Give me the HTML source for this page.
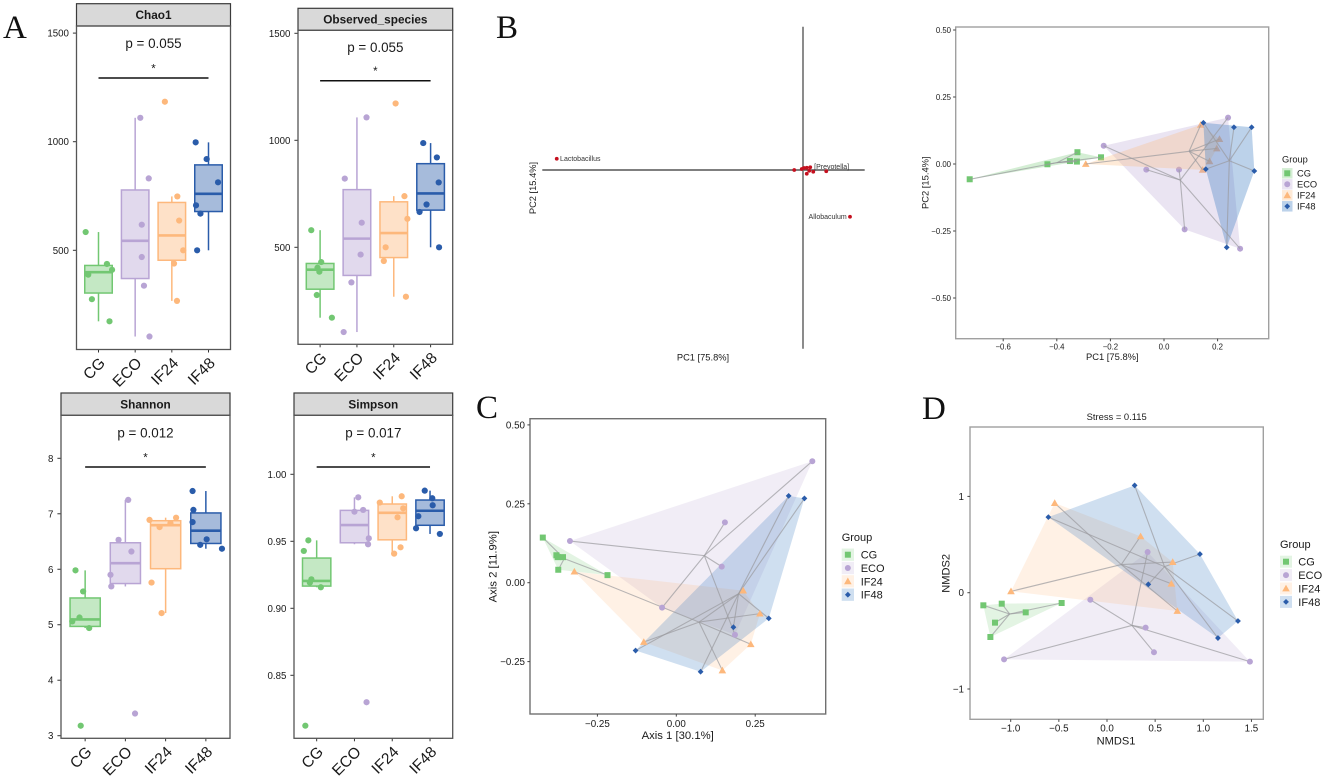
<!DOCTYPE html>
<html lang="en">
<head>
<meta charset="utf-8">
<title>Alpha and beta diversity figure</title>
<style>
html,body{margin:0;padding:0;background:#fff;}
svg{display:block;font-family:"Liberation Sans",sans-serif;filter:blur(0.35px);}
.letter{font-family:"Liberation Serif",serif;font-size:33px;fill:#111;}
</style>
</head>
<body>
<svg id="fig" xmlns="http://www.w3.org/2000/svg" width="1325" height="780" viewBox="0 0 1325 780">
  <rect x="0" y="0" width="1325" height="780" fill="#fff"/>
  <text class="letter" x="3" y="38">A</text>
  <text class="letter" x="496" y="38">B</text>
  <text class="letter" x="476" y="418">C</text>
  <text class="letter" x="922" y="419">D</text>
</svg>
<script>
/* ---------- shared categories ---------- */
const categories = ['CG', 'ECO', 'IF24', 'IF48'];

/* ---------- panel A: alpha diversity, one row per group ---------- */
const chao1Values = [
  [584, 437, 410, 388, 275, 173],
  [1110, 831, 618, 469, 337, 103],
  [1184, 748, 637, 500, 439, 267],
  [997, 920, 813, 707, 669, 500]
];
const chao1Jitter = [
  [-0.35, 0.23, 0.37, -0.28, -0.18, 0.30],
  [0.14, 0.37, 0.18, 0.18, 0.24, 0.39],
  [-0.19, 0.15, 0.20, 0.31, 0.06, 0.14],
  [-0.35, -0.05, 0.26, -0.34, -0.22, -0.31]
];
const chao1Ticks = [500, 1000, 1500];

const observedValues = [
  [580, 431, 405, 386, 277, 171],
  [1107, 821, 615, 466, 336, 104],
  [1172, 739, 633, 500, 436, 269],
  [987, 920, 803, 700, 665, 500]
];
const observedJitter = [
  [-0.24, 0.03, -0.07, -0.02, -0.09, 0.32],
  [0.26, -0.33, 0.13, 0.10, -0.15, -0.36],
  [0.05, 0.29, 0.37, -0.22, -0.27, 0.33],
  [-0.20, 0.17, 0.22, -0.11, -0.30, 0.23]
];
const observedTicks = [500, 1000, 1500];

const shannonValues = [
  [5.98, 5.60, 5.13, 5.06, 4.94, 3.18],
  [7.25, 6.53, 6.32, 5.90, 5.69, 3.40],
  [6.93, 6.89, 6.83, 6.76, 5.76, 5.21],
  [7.41, 7.07, 6.85, 6.54, 6.44, 6.37]
];
const shannonJitter = [
  [-0.24, -0.05, -0.14, -0.32, 0.10, -0.11],
  [0.07, -0.17, 0.15, -0.37, -0.35, 0.24],
  [0.26, -0.40, 0.12, -0.15, -0.35, -0.10],
  [-0.33, -0.31, -0.33, 0.02, -0.14, 0.40]
];
const shannonTicks = [3, 4, 5, 6, 7, 8];

const simpsonValues = [
  [0.9507, 0.9428, 0.9216, 0.9192, 0.9157, 0.8124],
  [0.9828, 0.9734, 0.9721, 0.9522, 0.9478, 0.8299],
  [0.9836, 0.9789, 0.9746, 0.9679, 0.9455, 0.9408],
  [0.9878, 0.9821, 0.9769, 0.9687, 0.9597, 0.9555]
];
const simpsonJitter = [
  [-0.22, -0.34, -0.14, -0.18, 0.11, -0.30],
  [0.10, 0.23, 0.00, 0.38, 0.36, 0.32],
  [0.25, -0.33, 0.29, 0.14, 0.22, 0.05],
  [-0.14, 0.06, 0.07, -0.31, -0.37, 0.26]
];
const simpsonTicks = [0.85, 0.90, 0.95, 1.00];

/* ---------- panel B: PCA biplot loadings ---------- */
const biplotPC1 = [-0.985, 0.188, 0.093, -0.035, -0.005, 0.004, 0.015, 0.029, 0.015, 0.041, 0.025];
const biplotPC2 = [0.045, -0.187, -0.005, 0, 0.004, 0.008, 0.009, 0.011, -0.015, -0.007, -0.003];
const biplotLabels = ['Lactobacillus', 'Allobaculum', '[Prevotella]', '', '', '', '', '', '', '', ''];

/* ---------- panel B right: PCA scores ---------- */
const pcaX = [
  [-0.725, -0.435, -0.351, -0.325, -0.323, -0.235],
  [-0.225, -0.066, 0.056, 0.239, 0.284, 0.077],
  [-0.292, 0.137, 0.207, 0.197, 0.170, 0.144],
  [0.147, 0.261, 0.327, 0.337, 0.156, 0.234]
];
const pcaY = [
  [-0.057, -0.001, 0.011, 0.009, 0.044, 0.025],
  [0.068, -0.021, -0.021, 0.173, -0.316, -0.244],
  [0, 0.146, 0.093, 0.058, 0.010, -0.022],
  [0.154, 0.137, 0.137, -0.026, -0.019, -0.311]
];
const pcaXTicks = [-0.6, -0.4, -0.2, 0.0, 0.2];
const pcaYTicks = [-0.50, -0.25, 0.00, 0.25, 0.50];

/* ---------- panel C: PCoA scores ---------- */
const pcoaX = [
  [-0.423, -0.380, -0.376, -0.359, -0.374, -0.218],
  [-0.337, 0.154, 0.431, 0.144, -0.045, 0.186],
  [-0.323, 0.212, 0.265, 0.236, 0.146, -0.103],
  [0.356, 0.406, 0.293, 0.181, 0.077, -0.129]
];
const pcoaY = [
  [0.143, 0.087, 0.081, 0.081, 0.041, 0.024],
  [0.132, 0.191, 0.385, 0.051, -0.079, -0.165],
  [0.035, -0.025, -0.098, -0.195, -0.278, -0.188],
  [0.275, 0.267, -0.113, -0.141, -0.282, -0.215]
];
const pcoaXTicks = [-0.25, 0.00, 0.25];
const pcoaYTicks = [-0.25, 0.00, 0.25, 0.50];

/* ---------- panel D: NMDS scores ---------- */
const nmdsX = [
  [-1.284, -1.093, -0.844, -0.471, -1.163, -1.211],
  [-0.173, 0.422, 0.401, 0.488, -1.069, 1.484],
  [-0.543, -0.997, 0.349, 0.682, 0.668, 0.730],
  [0.287, -0.609, 0.965, 0.429, 1.360, 1.152]
];
const nmdsY = [
  [-0.131, -0.114, -0.204, -0.107, -0.311, -0.460],
  [-0.073, 0.422, -0.363, -0.619, -0.692, -0.716],
  [0.931, 0.014, 0.585, 0.318, 0.093, -0.190],
  [1.114, 0.785, 0.401, 0.087, -0.294, -0.471]
];
const nmdsXTicks = [-1.0, -0.5, 0.0, 0.5, 1.0, 1.5];
const nmdsYTicks = [-1, 0, 1];

/* ---------- style ---------- */
const groupColors = ['#72c772', '#b8a4d4', '#fdb87c', '#2a5caa'];
const hullColors = ['#72c772', '#b8a4d4', '#fdb87c', '#3f7fc4'];
const groupShapes = ['square', 'circle', 'triangle', 'diamond'];
const NS = 'http://www.w3.org/2000/svg';
const root = document.getElementById('fig');

function node(tag, parent) {
  const el = document.createElementNS(NS, tag);
  parent.appendChild(el);
  return el;
}
function set(el, props) {
  for (const k in props) el.setAttribute(k, props[k]);
  return el;
}
function linear(d0, r0, d1, r1) {
  return function (v) { return r0 + (v - d0) * (r1 - r0) / (d1 - d0); };
}
function slug(s) {
  return s.toLowerCase().replace(/[^a-z0-9]+/g, '-').replace(/^-|-$/g, '');
}
function fmt(v, dec) {
  const s = Math.abs(v).toFixed(dec);
  return (v < 0 ? '\u2212' : '') + s;
}
function label(parent, str, x, y, size, anchor, extra) {
  const t = node('text', parent);
  set(t, { x: x, y: y, 'font-size': size, 'text-anchor': anchor, fill: '#1a1a1a' });
  if (extra) set(t, extra);
  t.textContent = str;
  return t;
}
function quantile(sorted, p) {
  const h = (sorted.length - 1) * p;
  const lo = Math.floor(h);
  const hi = Math.min(lo + 1, sorted.length - 1);
  return sorted[lo] + (h - lo) * (sorted[hi] - sorted[lo]);
}
function boxStats(values) {
  const s = values.slice().sort(function (a, b) { return a - b; });
  const q1 = quantile(s, 0.25);
  const med = quantile(s, 0.5);
  const q3 = quantile(s, 0.75);
  const iqr = q3 - q1;
  const inside = s.filter(function (v) { return v >= q1 - 1.5 * iqr && v <= q3 + 1.5 * iqr; });
  return { q1: q1, med: med, q3: q3, low: inside[0], high: inside[inside.length - 1] };
}
function mean(a) {
  return a.reduce(function (p, c) { return p + c; }, 0) / a.length;
}
function convexHull(points) {
  const pts = points.slice().sort(function (a, b) { return a[0] - b[0] || a[1] - b[1]; });
  function cross(o, a, b) { return (a[0] - o[0]) * (b[1] - o[1]) - (a[1] - o[1]) * (b[0] - o[0]); }
  const lower = [];
  pts.forEach(function (p) {
    while (lower.length >= 2 && cross(lower[lower.length - 2], lower[lower.length - 1], p) <= 0) lower.pop();
    lower.push(p);
  });
  const upper = [];
  pts.slice().reverse().forEach(function (p) {
    while (upper.length >= 2 && cross(upper[upper.length - 2], upper[upper.length - 1], p) <= 0) upper.pop();
    upper.push(p);
  });
  lower.pop();
  upper.pop();
  return lower.concat(upper);
}
function symbol(parent, shape, x, y, color) {
  let el;
  if (shape === 'square') {
    el = set(node('rect', parent), { x: x - 3, y: y - 3, width: 6, height: 6, fill: color });
  } else if (shape === 'circle') {
    el = set(node('circle', parent), { cx: x, cy: y, r: 3, fill: color });
  } else if (shape === 'triangle') {
    el = set(node('polygon', parent), {
      points: (x - 3.8) + ',' + (y + 2.9) + ' ' + (x + 3.8) + ',' + (y + 2.9) + ' ' + x + ',' + (y - 3.8),
      fill: color
    });
  } else {
    el = set(node('polygon', parent), {
      points: (x - 2.9) + ',' + y + ' ' + x + ',' + (y - 2.9) + ' ' + (x + 2.9) + ',' + y + ' ' + x + ',' + (y + 2.9),
      fill: color
    });
  }
  return el;
}

/* ---------- box panels ---------- */
function drawBoxPanel(cfg) {
  const g = node('g', root);
  
  

  const step = (cfg.x1 - cfg.x0) / 4.2;
  const cx = function (i) { return cfg.x0 + (i + 0.6) * step; };
  const y = linear(cfg.yA[0], cfg.yA[1], cfg.yB[0], cfg.yB[1]);
  const boxW = 0.75 * step;

  const strip = set(node('rect', g), {
    x: cfg.x0, y: cfg.stripTop, width: cfg.x1 - cfg.x0, height: cfg.top - cfg.stripTop,
    fill: '#d9d9d9', stroke: '#3a3a3a', 'stroke-width': 1.2
  });
  
  

  const title = label(g, cfg.title, (cfg.x0 + cfg.x1) / 2, (cfg.stripTop + cfg.top) / 2 + 4.2, 11.8, 'middle', { 'font-weight': 'bold' });
  
  

  const pTxt = label(g, cfg.p, (cfg.x0 + cfg.x1) / 2, cfg.pY, 13.4, 'middle');
  
  

  const sig = set(node('line', g), {
    x1: cx(0), x2: cx(3), y1: cfg.sigY, y2: cfg.sigY, stroke: '#111', 'stroke-width': 1.5
  });
  
  

  const star = label(g, '*', (cfg.x0 + cfg.x1) / 2, cfg.sigY - 5.5, 11.5, 'middle');
  
  

  cfg.values.forEach(function (vals, i) {
    const group = categories[i];
    const color = groupColors[i];
    const s = boxStats(vals);
    const grp = node('g', g);
    
    

    const wHigh = set(node('line', grp), { x1: cx(i), x2: cx(i), y1: y(s.q3), y2: y(s.high), stroke: color, 'stroke-width': 1.5 });
    
    

    const wLow = set(node('line', grp), { x1: cx(i), x2: cx(i), y1: y(s.q1), y2: y(s.low), stroke: color, 'stroke-width': 1.5 });
    
    

    const box = set(node('rect', grp), {
      x: cx(i) - boxW / 2, y: y(s.q3), width: boxW, height: y(s.q1) - y(s.q3),
      fill: color, 'fill-opacity': 0.42, stroke: color, 'stroke-width': 1.5
    });
    
    

    const med = set(node('line', grp), {
      x1: cx(i) - boxW / 2, x2: cx(i) + boxW / 2, y1: y(s.med), y2: y(s.med), stroke: color, 'stroke-width': 2.6
    });
    
    

    vals.forEach(function (v, k) {
      const pt = set(node('circle', grp), {
        cx: cx(i) + cfg.jitter[i][k] * step, cy: y(v), r: 3.1, fill: color
      });
      
      
    });

    const tick = set(node('line', g), { x1: cx(i), x2: cx(i), y1: cfg.bottom, y2: cfg.bottom + 3, stroke: '#333', 'stroke-width': 1 });
    
    

    const lx = cx(i) + 7.5;
    const ly = cfg.bottom + 14.5;
    const lab = label(g, group, lx, ly, 15.5, 'end', { transform: 'rotate(-45 ' + lx + ' ' + ly + ')' });
    
    
  });

  cfg.ticks.forEach(function (t) {
    const tick = set(node('line', g), { x1: cfg.x0 - 3.6, x2: cfg.x0, y1: y(t), y2: y(t), stroke: '#333', 'stroke-width': 1 });
    
    
    const lab = label(g, fmt(t, cfg.dec), cfg.x0 - 7.6, y(t) + 3.5, 9.7, 'end');
    
    
  });

  const border = set(node('rect', g), {
    x: cfg.x0, y: cfg.top, width: cfg.x1 - cfg.x0, height: cfg.bottom - cfg.top,
    fill: 'none', stroke: '#555', 'stroke-width': 1.3
  });
  
  
}

drawBoxPanel({ name: 'chao1', title: 'Chao1', p: 'p = 0.055', values: chao1Values, jitter: chao1Jitter, ticks: chao1Ticks, dec: 0,
  x0: 76.5, x1: 230.5, stripTop: 3.7, top: 26, bottom: 349.5, yA: [500, 250.3], yB: [1000, 141.7], pY: 48, sigY: 78 });
drawBoxPanel({ name: 'observed-species', title: 'Observed_species', p: 'p = 0.055', values: observedValues, jitter: observedJitter, ticks: observedTicks, dec: 0,
  x0: 298, x1: 452.7, stripTop: 8.3, top: 30.3, bottom: 344.3, yA: [500, 247.3], yB: [1000, 140.3], pY: 52, sigY: 80.7 });
drawBoxPanel({ name: 'shannon', title: 'Shannon', p: 'p = 0.012', values: shannonValues, jitter: shannonJitter, ticks: shannonTicks, dec: 0,
  x0: 61, x1: 230, stripTop: 393, top: 415.3, bottom: 738.3, yA: [3, 735.7], yB: [8, 458.3], pY: 437.5, sigY: 467 });
drawBoxPanel({ name: 'simpson', title: 'Simpson', p: 'p = 0.017', values: simpsonValues, jitter: simpsonJitter, ticks: simpsonTicks, dec: 2,
  x0: 294, x1: 452.7, stripTop: 393, top: 415.3, bottom: 738.3, yA: [0.85, 675.3], yB: [1, 474.3], pY: 437.5, sigY: 467 });

/* ---------- biplot ---------- */
(function drawBiplot() {
  const g = node('g', root);
  
  
  const x = linear(0, 803, 1, 1053);
  const y = linear(0, 170, 1, -80);
  const placement = {
    'Lactobacillus': { dx: 3.3, dy: 2.4, anchor: 'start' },
    'Allobaculum': { dx: -3.3, dy: 2.4, anchor: 'end' },
    '[Prevotella]': { dx: 5.4, dy: -2.4, anchor: 'middle' }
  };

  const h = set(node('line', g), { x1: 542.3, x2: 864.7, y1: y(0), y2: y(0), stroke: '#555', 'stroke-width': 1.4 });
  
  

  const v = set(node('line', g), { x1: x(0), x2: x(0), y1: 26.7, y2: 348.7, stroke: '#777', 'stroke-width': 1.7 });
  
  

  biplotPC1.forEach(function (pc1, i) {
    const pt = set(node('circle', g), { cx: x(pc1), cy: y(biplotPC2[i]), r: 1.9, fill: '#c5101f' });
    
    
    const name = biplotLabels[i];
    if (name) {
      const p = placement[name];
      const t = label(g, name, x(pc1) + p.dx, y(biplotPC2[i]) + p.dy, 7, p.anchor, { fill: '#333' });
      
      
    }
  });

  const xt = label(g, 'PC1 [75.8%]', 703, 360.5, 9.3, 'middle');
  
  

  const yt = label(g, 'PC2 [15.4%]', 536, 188, 9.3, 'middle', { transform: 'rotate(-90 536 188)' });
  
  
})();

/* ---------- ordination panels ---------- */
function drawOrdination(cfg) {
  const g = node('g', root);
  
  
  const x = linear(cfg.xA[0], cfg.xA[1], cfg.xB[0], cfg.xB[1]);
  const y = linear(cfg.yA[0], cfg.yA[1], cfg.yB[0], cfg.yB[1]);
  const alphaOf = function (i) { return i === 3 ? cfg.hullAlpha + 0.05 : cfg.hullAlpha; };

  function drawPoints(i) {
    cfg.xs[i].forEach(function (v, k) {
      const s = symbol(g, groupShapes[i], x(v), y(cfg.ys[i][k]), groupColors[i]);
      
      
    });
  }

  /* in the PCA scores plot the points sit beneath the hulls */
  if (!cfg.pointsOnTop) {
    [0, 1, 2].forEach(drawPoints);
  }

  cfg.xs.forEach(function (xv, i) {
    const pts = xv.map(function (v, k) { return [x(v), y(cfg.ys[i][k])]; });
    const hull = set(node('polygon', g), {
      points: convexHull(pts).map(function (p) { return p[0].toFixed(2) + ',' + p[1].toFixed(2); }).join(' '),
      fill: hullColors[i], 'fill-opacity': alphaOf(i)
    });
    
    
  });

  cfg.xs.forEach(function (xv, i) {
    const mx = mean(xv);
    const my = mean(cfg.ys[i]);
    xv.forEach(function (v, k) {
      const sp = set(node('line', g), {
        x1: x(mx), y1: y(my), x2: x(v), y2: y(cfg.ys[i][k]), stroke: '#9a9a9e', 'stroke-opacity': 0.7, 'stroke-width': 1.1
      });
      
      
    });
  });

  if (cfg.pointsOnTop) {
    [0, 1, 2, 3].forEach(drawPoints);
  } else {
    drawPoints(3);
  }

  const border = set(node('rect', g), {
    x: cfg.box[0], y: cfg.box[1], width: cfg.box[2] - cfg.box[0], height: cfg.box[3] - cfg.box[1],
    fill: 'none', stroke: cfg.borderColor, 'stroke-width': 1.4
  });
  
  

  cfg.xTicks.forEach(function (t) {
    const tick = set(node('line', g), { x1: x(t), x2: x(t), y1: cfg.box[3], y2: cfg.box[3] + 2.6, stroke: '#444', 'stroke-width': 1 });
    
    
    const lab = label(g, fmt(t, cfg.xDec), x(t), cfg.box[3] + cfg.tickGap, cfg.tickSize, 'middle');
    
    
  });
  cfg.yTicks.forEach(function (t) {
    const tick = set(node('line', g), { x1: cfg.box[0] - 2.6, x2: cfg.box[0], y1: y(t), y2: y(t), stroke: '#444', 'stroke-width': 1 });
    
    
    const lab = label(g, fmt(t, cfg.yDec), cfg.box[0] - cfg.yLabelGap, y(t) + cfg.tickSize * 0.36, cfg.tickSize, 'end');
    
    
  });

  const xt = label(g, cfg.xTitle, cfg.xTitlePos[0], cfg.xTitlePos[1], cfg.titleSize, 'middle');
  
  

  const yt = label(g, cfg.yTitle, cfg.yTitlePos[0], cfg.yTitlePos[1], cfg.titleSize, 'middle', {
    transform: 'rotate(-90 ' + cfg.yTitlePos[0] + ' ' + cfg.yTitlePos[1] + ')'
  });
  
  

  if (cfg.plotTitle) {
    const pt = label(g, cfg.plotTitle, cfg.plotTitlePos[0], cfg.plotTitlePos[1], 9.4, 'middle');
    
    
  }

  const leg = node('g', g);
  
  
  const lt = label(leg, 'Group', cfg.legendX, cfg.legendTitleY, cfg.legendSize, 'start');
  
  
  categories.forEach(function (c, i) {
    const ky = cfg.legendY + i * cfg.legendStep;
    const key = set(node('rect', leg), {
      x: cfg.legendX, y: ky - cfg.keySize / 2, width: cfg.keySize, height: cfg.keySize,
      fill: hullColors[i], 'fill-opacity': alphaOf(i)
    });
    
    
    const sy = symbol(leg, groupShapes[i], cfg.legendX + cfg.keySize / 2, ky, groupColors[i]);
    
    
    const tx = label(leg, c, cfg.legendLabelX, ky + cfg.legendSize * 0.36, cfg.legendSize, 'start');
    
    
  });
}

drawOrdination({ name: 'pca-scores', xs: pcaX, ys: pcaY, xTicks: pcaXTicks, yTicks: pcaYTicks, xDec: 1, yDec: 2,
  xA: [0, 1164], xB: [0.2, 1217.6], yA: [0, 164], yB: [0.25, 97], hullAlpha: 0.3, pointsOnTop: false,
  box: [955.7, 27, 1268.7, 338.7], borderColor: '#a0a0a0', tickSize: 7.8, tickGap: 10.7, titleSize: 9.4, yLabelGap: 4.7,
  xTitle: 'PC1 [75.8%]', xTitlePos: [1112.3, 360], yTitle: 'PC2 [15.4%]', yTitlePos: [928.3, 182.7],
  legendX: 1282, legendTitleY: 162.5, legendY: 173.3, legendStep: 11, keySize: 10.5, legendLabelX: 1297, legendSize: 9.3 });

drawOrdination({ name: 'pcoa', xs: pcoaX, ys: pcoaY, xTicks: pcoaXTicks, yTicks: pcoaYTicks, xDec: 2, yDec: 2,
  xA: [0, 676.3], xB: [0.25, 755.2], yA: [0, 582.7], yB: [0.25, 503.8], hullAlpha: 0.2, pointsOnTop: true,
  box: [530, 418.7, 825.7, 714], borderColor: '#707070', tickSize: 9.8, tickGap: 12.8, titleSize: 11.3, yLabelGap: 5,
  xTitle: 'Axis 1 [30.1%]', xTitlePos: [677.7, 739], yTitle: 'Axis 2 [11.9%]', yTitlePos: [496.3, 566.7],
  legendX: 841.7, legendTitleY: 541, legendY: 554.7, legendStep: 13.33, keySize: 12.3, legendLabelX: 860.7, legendSize: 11 });

drawOrdination({ name: 'nmds', xs: nmdsX, ys: nmdsY, xTicks: nmdsXTicks, yTicks: nmdsYTicks, xDec: 1, yDec: 0,
  xA: [0, 1107], xB: [1, 1203.3], yA: [0, 592.7], yB: [1, 496.4], hullAlpha: 0.2, pointsOnTop: true,
  box: [970, 427, 1263.3, 719.3], borderColor: '#a0a0a0', tickSize: 9.8, tickGap: 12.4, titleSize: 11.1, yLabelGap: 6,
  xTitle: 'NMDS1', xTitlePos: [1116, 744.5], yTitle: 'NMDS2', yTitlePos: [949.7, 573.3],
  plotTitle: 'Stress = 0.115', plotTitlePos: [1116.7, 420],
  legendX: 1280, legendTitleY: 548, legendY: 561.7, legendStep: 13.4, keySize: 12, legendLabelX: 1298.3, legendSize: 11 });
</script>
</body>
</html>
